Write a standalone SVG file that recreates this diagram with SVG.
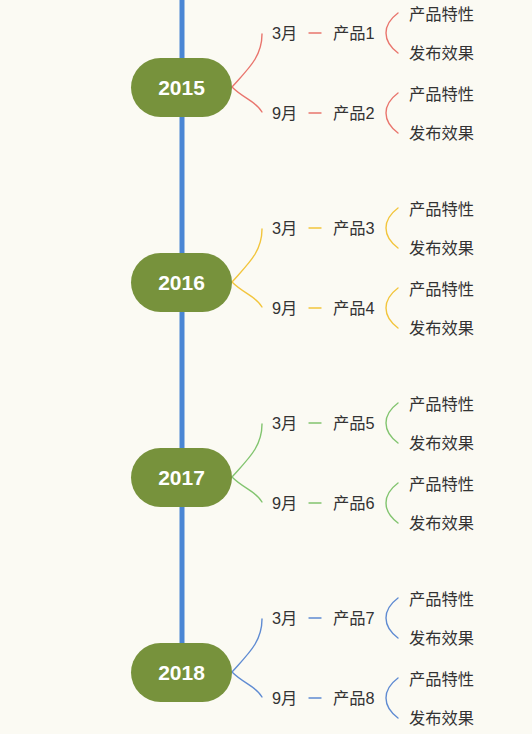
<svg xmlns="http://www.w3.org/2000/svg" width="532" height="734" viewBox="0 0 532 734">
<style>
.bg{fill:#fbfaf3}
.axis{stroke:#4a86d4;stroke-width:5;fill:none}
.year rect{fill:#77923c}
.year text{fill:#ffffff;font-family:"Liberation Sans","Noto Sans CJK SC",sans-serif;font-weight:bold;font-size:21px;text-anchor:middle;dominant-baseline:central}
.lbl{fill:#333333;font-family:"Liberation Sans","Noto Sans CJK SC",sans-serif;font-size:16.3px;dominant-baseline:central}
.c{fill:none;stroke-width:1.4;stroke-linecap:round}
.r{stroke:#e9756d}
.y{stroke:#f2c53d}
.g{stroke:#82c46f}
.b{stroke:#5f8bd2}
</style>
<rect class="bg" x="0" y="0" width="532" height="734"/>
<g id="connectors">
<line class="axis" x1="182" y1="0" x2="182" y2="650"/>
<!-- 2015 -->
<g class="c r">
<path d="M232,87 C248,69 262,57 262,34"/>
<path d="M232,87 C244,99 256,101 262,112"/>
<path d="M309,33 H321"/><path d="M309,113 H321"/>
<path d="M398,13 C390,19 386,25 386,33 C386,41 390,47 398,53"/>
<path d="M398,93 C390,99 386,105 386,113 C386,121 390,127 398,133"/>
</g>
<!-- 2016 -->
<g class="c y">
<path d="M232,282 C248,264 262,252 262,229"/>
<path d="M232,282 C244,294 256,296 262,307"/>
<path d="M309,228 H321"/><path d="M309,308 H321"/>
<path d="M398,208 C390,214 386,220 386,228 C386,236 390,242 398,248"/>
<path d="M398,288 C390,294 386,300 386,308 C386,316 390,322 398,328"/>
</g>
<!-- 2017 -->
<g class="c g">
<path d="M232,477 C248,459 262,447 262,424"/>
<path d="M232,477 C244,489 256,491 262,502"/>
<path d="M309,423 H321"/><path d="M309,503 H321"/>
<path d="M398,403 C390,409 386,415 386,423 C386,431 390,437 398,443"/>
<path d="M398,483 C390,489 386,495 386,503 C386,511 390,517 398,523"/>
</g>
<!-- 2018 -->
<g class="c b">
<path d="M232,672 C248,654 262,642 262,619"/>
<path d="M232,672 C244,684 256,686 262,697"/>
<path d="M309,618 H321"/><path d="M309,698 H321"/>
<path d="M398,598 C390,604 386,610 386,618 C386,626 390,632 398,638"/>
<path d="M398,678 C390,684 386,690 386,698 C386,706 390,712 398,718"/>
</g>
</g>
<g id="node-2015" class="year"><rect x="131" y="58" width="101" height="59" rx="29.5"/><text x="181.5" y="87.5">2015</text></g>
<g id="node-2016" class="year"><rect x="131" y="253" width="101" height="59" rx="29.5"/><text x="181.5" y="282.5">2016</text></g>
<g id="node-2017" class="year"><rect x="131" y="448" width="101" height="59" rx="29.5"/><text x="181.5" y="477.5">2017</text></g>
<g id="node-2018" class="year"><rect x="131" y="643" width="101" height="59" rx="29.5"/><text x="181.5" y="672.5">2018</text></g>

<g id="m-2015-3"><text class="lbl" x="272" y="33">3月</text></g>
<g id="p-1"><text class="lbl" x="333" y="33">产品1</text></g>
<g id="s-1a"><text class="lbl" x="409" y="14">产品特性</text></g>
<g id="s-1b"><text class="lbl" x="409" y="53">发布效果</text></g>
<g id="m-2015-9"><text class="lbl" x="272" y="113">9月</text></g>
<g id="p-2"><text class="lbl" x="333" y="113">产品2</text></g>
<g id="s-2a"><text class="lbl" x="409" y="94">产品特性</text></g>
<g id="s-2b"><text class="lbl" x="409" y="133">发布效果</text></g>

<g id="m-2016-3"><text class="lbl" x="272" y="228">3月</text></g>
<g id="p-3"><text class="lbl" x="333" y="228">产品3</text></g>
<g id="s-3a"><text class="lbl" x="409" y="209">产品特性</text></g>
<g id="s-3b"><text class="lbl" x="409" y="248">发布效果</text></g>
<g id="m-2016-9"><text class="lbl" x="272" y="308">9月</text></g>
<g id="p-4"><text class="lbl" x="333" y="308">产品4</text></g>
<g id="s-4a"><text class="lbl" x="409" y="289">产品特性</text></g>
<g id="s-4b"><text class="lbl" x="409" y="328">发布效果</text></g>

<g id="m-2017-3"><text class="lbl" x="272" y="423">3月</text></g>
<g id="p-5"><text class="lbl" x="333" y="423">产品5</text></g>
<g id="s-5a"><text class="lbl" x="409" y="404">产品特性</text></g>
<g id="s-5b"><text class="lbl" x="409" y="443">发布效果</text></g>
<g id="m-2017-9"><text class="lbl" x="272" y="503">9月</text></g>
<g id="p-6"><text class="lbl" x="333" y="503">产品6</text></g>
<g id="s-6a"><text class="lbl" x="409" y="484">产品特性</text></g>
<g id="s-6b"><text class="lbl" x="409" y="523">发布效果</text></g>

<g id="m-2018-3"><text class="lbl" x="272" y="618">3月</text></g>
<g id="p-7"><text class="lbl" x="333" y="618">产品7</text></g>
<g id="s-7a"><text class="lbl" x="409" y="599">产品特性</text></g>
<g id="s-7b"><text class="lbl" x="409" y="638">发布效果</text></g>
<g id="m-2018-9"><text class="lbl" x="272" y="698">9月</text></g>
<g id="p-8"><text class="lbl" x="333" y="698">产品8</text></g>
<g id="s-8a"><text class="lbl" x="409" y="679">产品特性</text></g>
<g id="s-8b"><text class="lbl" x="409" y="718">发布效果</text></g>
</svg>
